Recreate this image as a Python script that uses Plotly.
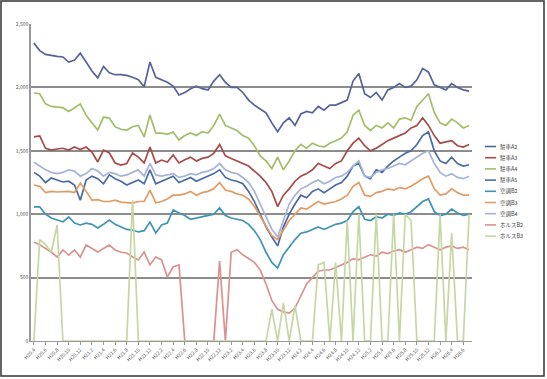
import plotly.graph_objects as go

# categories: monthly, Heisei era (H20.4 .. H26.7)
categories = []
y, m = 20, 4
for _ in range(76):
    categories.append(f"H{y}.{m}")
    m += 1
    if m > 12:
        m = 1
        y += 1

series_names = ["駐車A2", "駐車A3", "駐車A4", "駐車A5", "空調B2", "空調B3", "空調B4", "ホルスB2", "ホルスB3"]

a2 = [2350,2290,2260,2250,2245,2240,2200,2215,2270,2200,2130,2075,2165,2115,2100,2100,2095,2080,2060,2005,
      2200,2080,2060,2040,2010,1940,1960,1990,2010,1990,1980,2050,2100,2040,2000,2000,1960,1900,1860,1830,
      1800,1720,1650,1720,1760,1700,1790,1810,1800,1850,1820,1860,1860,1880,1900,2050,2110,1950,1920,1960,
      1900,1980,2000,2030,2000,2010,2060,2150,2120,2020,2000,1980,2030,2000,1980,1970]
a3 = [1610,1617,1520,1506,1514,1520,1506,1530,1510,1530,1490,1412,1506,1483,1404,1388,1400,1483,1450,1404,
      1530,1404,1427,1412,1467,1404,1430,1450,1420,1440,1450,1480,1550,1460,1440,1420,1400,1380,1340,1300,
      1250,1180,1060,1150,1200,1260,1300,1320,1350,1400,1380,1360,1400,1420,1500,1560,1600,1540,1500,1520,
      1550,1580,1600,1620,1640,1680,1700,1760,1700,1620,1560,1570,1580,1540,1530,1550]
a4 = [1956,1950,1870,1850,1845,1840,1810,1840,1869,1780,1720,1664,1766,1758,1690,1670,1664,1690,1700,1609,
      1782,1640,1640,1630,1648,1585,1620,1640,1620,1650,1640,1700,1790,1700,1680,1660,1620,1600,1540,1460,
      1420,1360,1450,1350,1420,1500,1550,1520,1560,1540,1530,1560,1580,1600,1650,1780,1820,1700,1660,1700,
      1680,1720,1680,1750,1760,1740,1850,1900,1950,1800,1720,1700,1750,1720,1680,1700]
a5 = [1330,1300,1250,1285,1270,1254,1260,1230,1110,1270,1300,1280,1240,1310,1280,1260,1230,1250,1270,1240,
      1350,1240,1260,1280,1300,1250,1270,1290,1260,1280,1300,1320,1350,1290,1270,1260,1240,1180,1100,1000,
      900,820,750,900,1000,1080,1150,1130,1180,1200,1170,1200,1230,1250,1300,1380,1400,1300,1280,1350,
      1330,1380,1420,1450,1480,1500,1550,1620,1650,1500,1420,1400,1450,1400,1380,1390]
b2 = [1057,1057,1000,970,954,940,978,930,915,930,920,891,920,954,920,899,880,875,860,870,
      938,852,915,930,1033,1009,990,960,970,980,990,1000,1050,990,970,960,950,920,870,800,
      700,620,575,680,740,800,850,860,880,900,880,900,920,930,950,1020,1060,960,950,980,
      970,1000,990,1010,1000,1020,1060,1100,1120,1020,990,1000,1040,1010,990,1000]
b3 = [1230,1220,1170,1180,1175,1175,1180,1170,1246,1180,1112,1115,1100,1100,1110,1095,1090,1088,1100,1100,
      1190,1090,1100,1120,1150,1150,1160,1180,1150,1170,1180,1200,1250,1190,1180,1160,1150,1120,1060,980,
      900,830,800,880,950,1000,1050,1040,1070,1100,1080,1090,1100,1120,1150,1220,1250,1150,1140,1170,
      1180,1200,1190,1210,1200,1220,1250,1280,1300,1200,1150,1160,1200,1170,1150,1150]
b4 = [1410,1380,1350,1330,1320,1330,1350,1340,1300,1320,1360,1340,1300,1330,1320,1300,1310,1330,1350,1300,
      1400,1310,1300,1310,1320,1290,1300,1320,1310,1330,1340,1360,1400,1350,1330,1320,1290,1250,1180,1080,
      980,880,820,950,1080,1150,1200,1220,1250,1270,1240,1260,1290,1300,1330,1380,1420,1300,1290,1330,
      1350,1360,1380,1400,1390,1420,1450,1480,1500,1400,1330,1300,1320,1290,1280,1300]
c2 = [781,760,730,702,662,718,678,718,662,757,730,702,730,757,718,700,694,662,639,702,
      600,662,639,505,584,600,0,0,0,0,0,0,630,0,700,720,680,650,620,560,
      450,320,250,230,220,260,350,450,500,550,560,560,580,600,620,650,640,660,680,670,
      700,690,710,720,700,720,740,730,760,740,720,740,750,730,740,720]
c3 = [0,800,760,700,915,0,0,0,0,0,0,0,0,0,0,0,0,1110,0,0,
      0,0,0,0,0,0,0,0,0,0,0,0,0,0,0,0,0,0,0,0,
      0,250,0,300,0,280,0,0,0,600,620,0,620,0,950,0,1000,0,0,1000,
      0,0,1000,0,1000,950,0,0,0,0,1000,0,850,0,0,1000]

values = [a2, a3, a4, a5, b2, b3, b4, c2, c3]
colors = ["#55639C", "#A84A48", "#A3BD6A", "#4A6AA6", "#3F93B5", "#E39A63", "#A5B3DA", "#D9928F", "#C6D7A3"]

y_ticks = [0, 500, 1000, 1500, 2000, 2500]
y_tick_text = ["0", "500", "1,000", "1,500", "2,000", "2,500"]

L, R, T, B, W, H = 31, 75, 24, 38, 547, 379
PW, PH = W - L - R, H - T - B


def px2x(px):
    return (px - L) / PW


def px2y(py):
    return (H - B - py) / PH


fig = go.Figure()
for name, vals, col in zip(series_names, values, colors):
    fig.add_trace(go.Scatter(x=categories, y=vals, name=name, mode="lines",
                             line=dict(color=col, width=1.7), showlegend=False))

# manual legend (Excel-like short line samples)
shapes = [dict(type="rect", xref="paper", yref="paper",
               x0=px2x(1), x1=px2x(544), y0=px2y(376), y1=px2y(1),
               line=dict(color="#333", width=1.5), layer="above")]
annotations = []
leg_top, leg_step = 146.5, 11.2
for i, (name, col) in enumerate(zip(series_names, colors)):
    yy = px2y(leg_top + i * leg_step)
    shapes.append(dict(type="line", xref="paper", yref="paper",
                       x0=px2x(485), x1=px2x(496), y0=yy, y1=yy,
                       line=dict(color=col, width=1.6)))
    annotations.append(dict(xref="paper", yref="paper", x=px2x(497.5), y=yy,
                            text=name, showarrow=False, xanchor="left", yanchor="middle",
                            font=dict(size=5.5, color="#444")))

fig.update_layout(
    width=W, height=H,
    margin=dict(l=L, r=R, t=T, b=B),
    paper_bgcolor="white", plot_bgcolor="white",
    font=dict(family="Noto Sans CJK JP, DejaVu Sans", size=5, color="#555"),
    showlegend=False,
    xaxis=dict(type="category", tickmode="array", automargin=False,
               tickvals=categories[::2], ticktext=categories[::2],
               tickangle=-45, tickfont=dict(size=5, color="#555"),
               showgrid=False, showline=True, linecolor="#999", linewidth=1,
               ticks="outside", ticklen=3, tickcolor="#999", range=[-0.5, 75.5]),
    yaxis=dict(range=[0, 2500], tickvals=y_ticks, ticktext=y_tick_text, automargin=False,
               tickfont=dict(size=5, color="#555"),
               showgrid=True, gridcolor="#8c8c8c", gridwidth=1.5,
               showline=True, linecolor="#999", linewidth=1.5, zeroline=False),
    shapes=shapes,
    annotations=annotations,
)

fig.write_html("out.html", config={"displayModeBar": False},
               post_script="document.body.style.margin='0px';")
